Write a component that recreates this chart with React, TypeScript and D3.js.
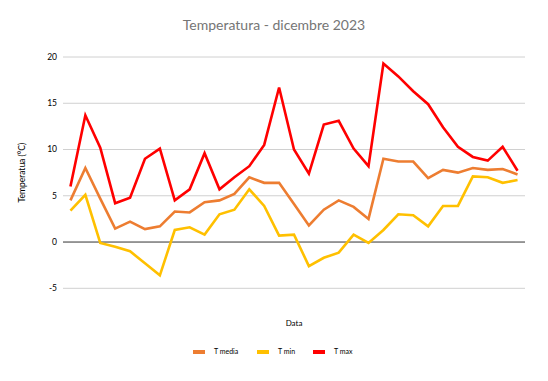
import React from "react";
import * as d3 from "d3";

const days = d3.range(1, 32).map(String);
const tMedia = [4.5, 8.0, 4.7, 1.45, 2.2, 1.4, 1.7, 3.3, 3.2, 4.3, 4.5, 5.2, 7.0, 6.4, 6.4, 4.1, 1.8, 3.5, 4.5, 3.8, 2.5, 9.0, 8.7, 8.7, 6.9, 7.8, 7.5, 8.0, 7.8, 7.9, 7.3];
const tMin = [3.4, 5.1, -0.1, -0.5, -1.0, -2.3, -3.6, 1.3, 1.6, 0.8, 3.0, 3.5, 5.7, 3.9, 0.7, 0.8, -2.6, -1.7, -1.15, 0.8, -0.1, 1.3, 3.0, 2.9, 1.7, 3.9, 3.9, 7.1, 7.0, 6.4, 6.7];
const tMax = [6.0, 13.7, 10.2, 4.2, 4.8, 9.0, 10.1, 4.5, 5.7, 9.6, 5.7, 7.0, 8.2, 10.5, 16.7, 10.0, 7.4, 12.7, 13.1, 10.1, 8.2, 19.3, 17.9, 16.3, 14.9, 12.4, 10.3, 9.2, 8.8, 10.3, 7.7];
const yTicks = [-5, 0, 5, 10, 15, 20];

const series = [
  { name: "T media", values: tMedia, color: "#ed7d31" },
  { name: "T min", values: tMin, color: "#ffc000" },
  { name: "T max", values: tMax, color: "#ff0000" },
];

export default function App() {
  const W = 548, H = 381;
  const left = 63, right = 525, top = 57, bottom = 288.3;
  const x = d3.scaleBand().domain(days).range([left, right]);
  const y = d3.scaleLinear().domain([-5, 20]).range([bottom, top]);
  const line = (vals: number[]) =>
    d3.line<number>().x((_, i) => (x(days[i]) as number) + x.bandwidth() / 2).y((v) => y(v))(vals) as string;
  const font = "Lato, 'Open Sans', sans-serif";
  const legendX = [193, 257, 313];
  return (
    <svg width={W} height={H} style={{ position: "absolute", left: 0, top: 0, background: "#fff" }} fontFamily={font}>
      <rect x={0} y={0} width={W} height={H} fill="#fff" />
      <text x={274} y={30} textAnchor="middle" fontSize={14} fill="#757575">Temperatura - dicembre 2023</text>
      {yTicks.map((t) => (
        <g key={t}>
          <line x1={left} x2={right} y1={y(t)} y2={y(t)} stroke={t === 0 ? "#333" : "#d0d0d0"} strokeWidth={1} />
          <text x={57} y={y(t)} dy="0.35em" textAnchor="end" fontSize={8.5} fill="#000">{t}</text>
        </g>
      ))}
      <text transform={`translate(25,${(top + bottom) / 2}) rotate(-90)`} textAnchor="middle" fontSize={8.5} fill="#000">Temperatua (°C)</text>
      <text x={(left + right) / 2} y={326} textAnchor="middle" fontSize={8} fill="#000">Data</text>
      {series.map((s) => (
        <path key={s.name} d={line(s.values)} fill="none" stroke={s.color} strokeWidth={2.6} strokeLinejoin="miter" />
      ))}
      {series.map((s, i) => (
        <g key={s.name}>
          <rect x={legendX[i]} y={350} width={12} height={4} fill={s.color} />
          <text x={legendX[i] + 21} y={352} dy="0.35em" fontSize={7} fill="#000">{s.name}</text>
        </g>
      ))}
    </svg>
  );
}
